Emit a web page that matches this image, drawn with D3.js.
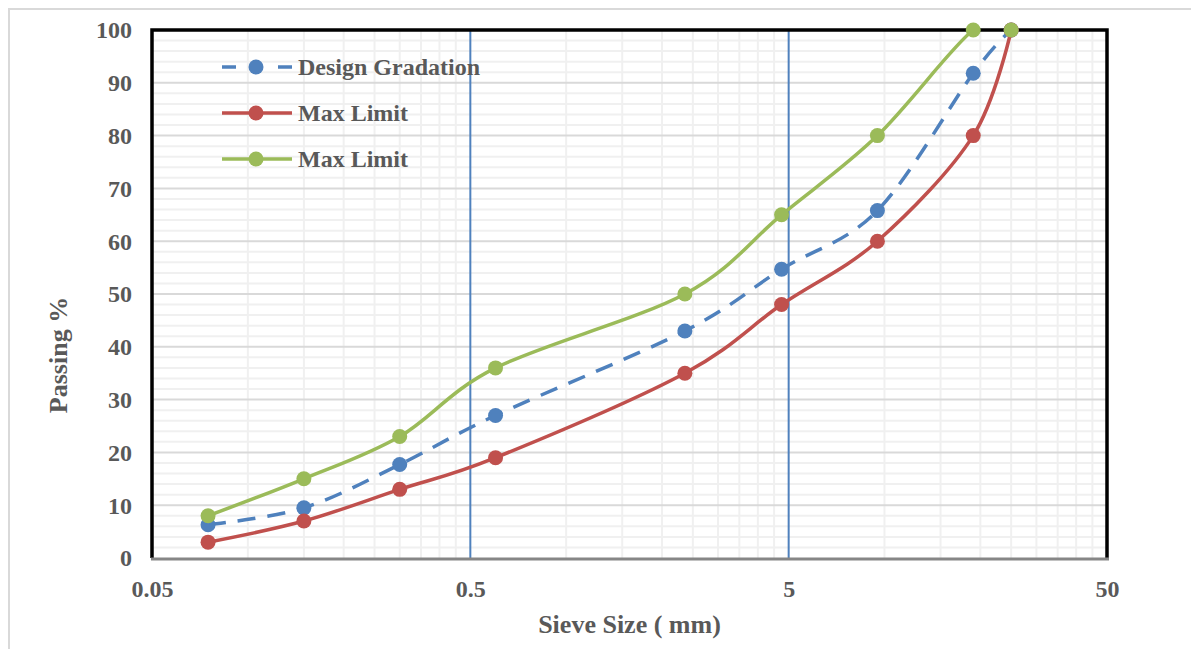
<!DOCTYPE html>
<html>
<head>
<meta charset="utf-8">
<script src="https://cdn.jsdelivr.net/npm/d3@7"></script>
<style>
  body { margin: 0; background: #fff; }
  text { font-family: "Liberation Serif", "Times New Roman", serif; font-weight: bold; fill: #595959; }
</style>
</head>
<body>
<svg></svg>
<script>
// sieve sizes (mm) and percent passing
let sieveSizes = [0.075, 0.15, 0.3, 0.6, 2.36, 4.75, 9.5, 19, 25]
let designGradation = [6.3, 9.5, 17.7, 27, 43, 54.7, 65.8, 91.8, 100]
let lowerLimit = [3, 7, 13, 19, 35, 48, 60, 80, 100]
let upperLimit = [8, 15, 23, 36, 50, 65, 80, 100, 100]

let xTicks = [0.05, 0.5, 5, 50]
let yTicks = [0, 10, 20, 30, 40, 50, 60, 70, 80, 90, 100]
let seriesNames = ["Design Gradation", "Max Limit", "Max Limit"]

let svgWidth = 1191, svgHeight = 649
let plotLeft = 152, plotRight = 1107, plotTop = 30, plotBottom = 558

let svg = d3.select('svg')
   .attr("width", svgWidth)
   .attr("height", svgHeight)

// outer chart border
svg.append("rect")
   .attr("x", 9).attr("y", 9)
   .attr("width", 1300).attr("height", 800)
   .attr("fill", "none")
   .attr("stroke", "#d9d9d9")
   .attr("stroke-width", 2)

// lines are clipped to the plot area like in the original
svg.append("clipPath").attr("id", "plotClip")
   .append("rect")
   .attr("x", plotLeft).attr("y", plotTop)
   .attr("width", plotRight - plotLeft).attr("height", plotBottom - plotTop)

let xScale = d3.scaleLog().domain([0.05, 50]).range([plotLeft, plotRight])
let yScale = d3.scaleLinear().domain([0, 100]).range([plotBottom, plotTop])

// minor grid
let yMinor = d3.range(0, 101, 2).filter(d => d % 10 != 0)
svg.append("g").selectAll("line")
   .data(yMinor).enter().append("line")
   .attr("x1", plotLeft).attr("x2", plotRight)
   .attr("y1", d => yScale(d)).attr("y2", d => yScale(d))
   .attr("stroke", "#f0f0f0").attr("stroke-width", 2)

let xMinor = []
xTicks.slice(0, 3).forEach(d => {
   for (let k = 2; k <= 9; k++) xMinor.push(d * k)
})
svg.append("g").selectAll("line")
   .data(xMinor).enter().append("line")
   .attr("x1", d => xScale(d)).attr("x2", d => xScale(d))
   .attr("y1", plotTop).attr("y2", plotBottom)
   .attr("stroke", "#f0f0f0").attr("stroke-width", 2)

// major grid
svg.append("g").selectAll("line")
   .data(yTicks.slice(1, -1)).enter().append("line")
   .attr("x1", plotLeft).attr("x2", plotRight)
   .attr("y1", d => yScale(d)).attr("y2", d => yScale(d))
   .attr("stroke", "#d9d9d9").attr("stroke-width", 2)

svg.append("g").selectAll("line")
   .data(xTicks.slice(1, -1)).enter().append("line")
   .attr("x1", d => xScale(d)).attr("x2", d => xScale(d))
   .attr("y1", plotTop).attr("y2", plotBottom)
   .attr("stroke", "#4f81bd").attr("stroke-width", 2)

// frame
svg.append("path")
   .attr("d", "M" + plotLeft + "," + plotBottom + "V" + plotTop + "H" + plotRight + "V" + plotBottom)
   .attr("fill", "none")
   .attr("stroke", "#000")
   .attr("stroke-width", 3.5)
svg.append("line")
   .attr("x1", plotLeft - 1).attr("x2", plotRight + 2)
   .attr("y1", plotBottom + 1).attr("y2", plotBottom + 1)
   .attr("stroke", "#868686")
   .attr("stroke-width", 3)

// axes labels
let yAxis = d3.axisLeft(yScale).tickValues(yTicks).tickSize(0).tickPadding(20)
svg.append("g")
   .attr("transform", "translate(" + plotLeft + ",0)")
   .call(yAxis)
   .call(g => g.select(".domain").remove())
   .selectAll("text")
   .attr("font-size", 24)
   .attr("font-family", null)
   .attr("dy", "0.33em")

let xAxis = d3.axisBottom(xScale).tickValues(xTicks).tickFormat(d => d).tickSize(0).tickPadding(22)
svg.append("g")
   .attr("transform", "translate(0," + plotBottom + ")")
   .call(xAxis)
   .call(g => g.select(".domain").remove())
   .selectAll("text")
   .attr("font-size", 24)
   .attr("font-family", null)
   .attr("dy", "0.71em")

svg.append("text")
   .attr("x", (plotLeft + plotRight) / 2)
   .attr("y", 633)
   .attr("text-anchor", "middle")
   .attr("font-size", 26)
   .text("Sieve Size ( mm)")

svg.append("text")
   .attr("transform", "translate(67,355) rotate(-90)")
   .attr("text-anchor", "middle")
   .attr("font-size", 26)
   .text("Passing %")

// series
let series = [
   { name: seriesNames[0], values: designGradation, color: "#4f81bd", dash: "18,12" },
   { name: seriesNames[1], values: lowerLimit, color: "#c0504d", dash: null },
   { name: seriesNames[2], values: upperLimit, color: "#9bbb59", dash: null }
]

let line = d3.line()
   .x(d => xScale(d[0]))
   .y(d => yScale(d[1]))
   .curve(d3.curveCardinal.tension(0))

series.forEach(s => {
   let pts = sieveSizes.map((d, i) => [d, s.values[i]])
   svg.append("path")
      .datum(pts)
      .attr("d", line)
      .attr("clip-path", "url(#plotClip)")
      .attr("fill", "none")
      .attr("stroke", s.color)
      .attr("stroke-width", 3.5)
      .attr("stroke-dasharray", s.dash)
   svg.append("g").selectAll("circle")
      .data(pts).enter().append("circle")
      .attr("cx", d => xScale(d[0]))
      .attr("cy", d => yScale(d[1]))
      .attr("r", 7.5)
      .attr("fill", s.color)
})

// legend
let legend = svg.append("g").selectAll("g")
   .data(series).enter().append("g")
   .attr("transform", (d, i) => "translate(0," + (67 + i * 46) + ")")

legend.append("line")
   .attr("x1", 222).attr("x2", 292)
   .attr("stroke", d => d.color)
   .attr("stroke-width", 3.5)
   .attr("stroke-dasharray", d => d.dash ? "14,42" : null)
legend.append("circle")
   .attr("cx", 256).attr("r", 7.5)
   .attr("fill", d => d.color)
legend.append("text")
   .attr("x", 298).attr("dy", "0.33em")
   .attr("font-size", 24)
   .text(d => d.name)
</script>
</body>
</html>
